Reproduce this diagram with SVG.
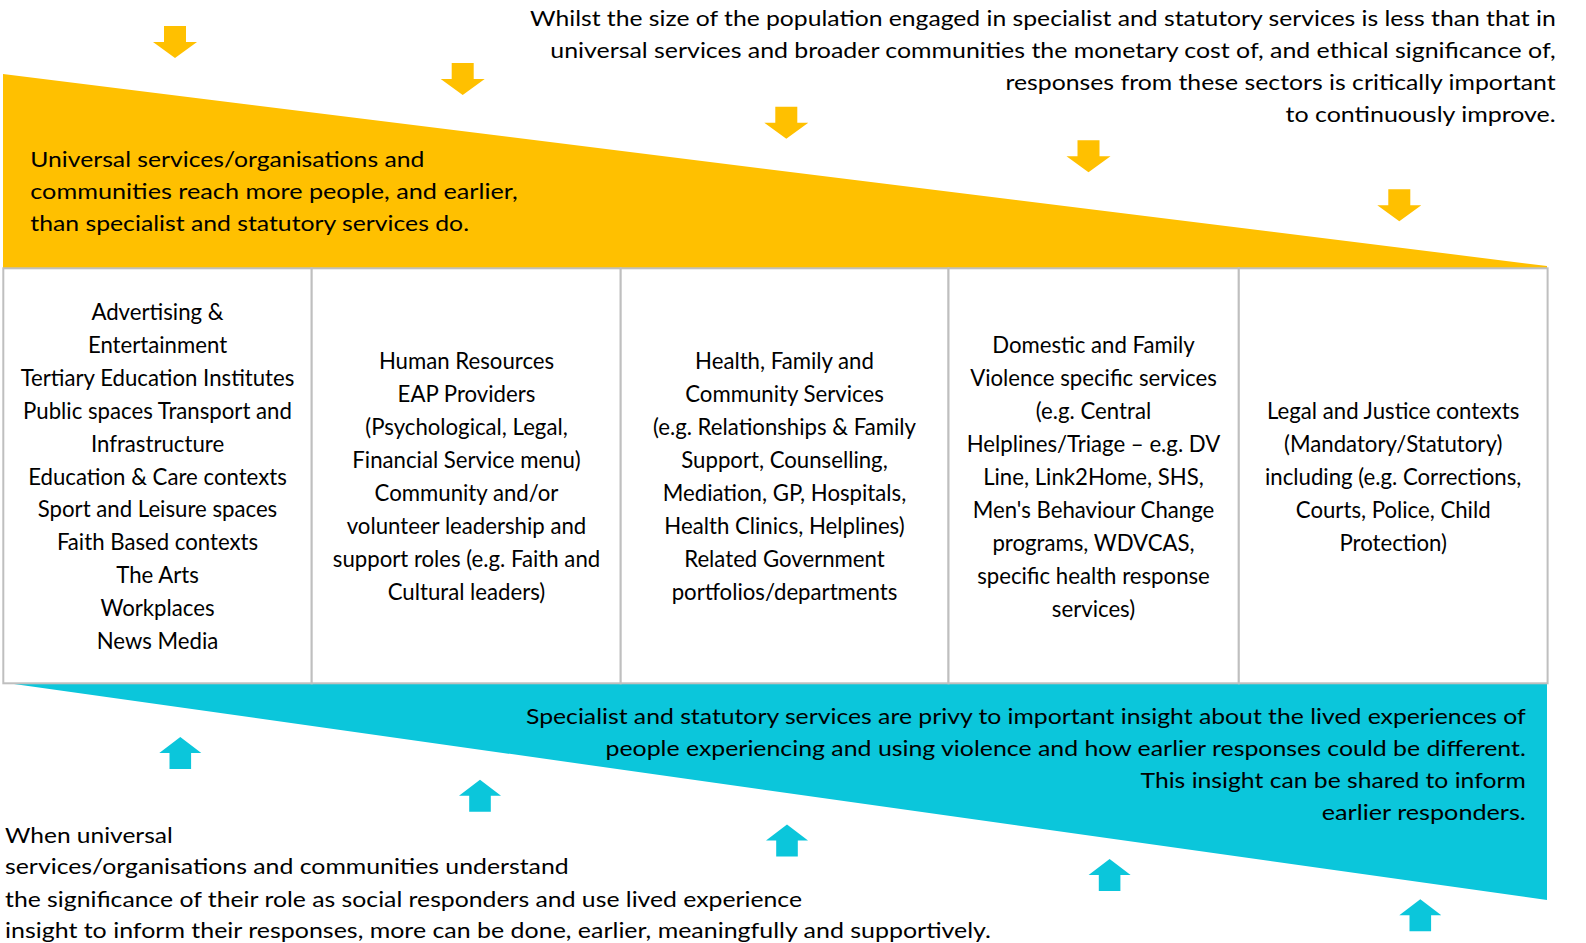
<svg xmlns="http://www.w3.org/2000/svg" width="1586" height="943" viewBox="0 0 1586 943">
<style>
.t{font-family:Lato,"Open Sans","Liberation Sans",sans-serif;font-size:21px;fill:#000}
.c{text-anchor:middle;font-size:22.2px}
.cell{fill:#fff;stroke:#bfbfbf;stroke-width:2}
.yel{fill:#ffc000}
.cya{fill:#0bc6db}
</style>
<defs>
<path id="down" d="M-11,0 H11 V16 H22 L0,32 L-22,16 H-11 Z"/>
<path id="up" d="M0,0 L21,16 H10.8 V32 H-10.8 V16 H-21 Z"/>
</defs>
<rect width="1586" height="943" fill="#fff"/>
<g id="yellow-band">
<polygon class="yel" points="3,74 1547,266 1547,268 3,268"/>
<text class="t" x="30.3" y="166.7" textLength="394" lengthAdjust="spacingAndGlyphs">Universal services/organisations and</text>
<text class="t" x="30.3" y="199" textLength="487.4" lengthAdjust="spacingAndGlyphs">communities reach more people, and earlier,</text>
<text class="t" x="30.3" y="231" textLength="438.7" lengthAdjust="spacingAndGlyphs">than specialist and statutory services do.</text>
</g>
<g id="top-note">
<text class="t" x="530" y="26" textLength="1025.7" lengthAdjust="spacingAndGlyphs">Whilst the size of the population engaged in specialist and statutory services is less than that in</text>
<text class="t" x="550.3" y="57.8" textLength="1005.4" lengthAdjust="spacingAndGlyphs">universal services and broader communities the monetary cost of, and ethical significance of,</text>
<text class="t" x="1005.4" y="89.7" textLength="550.3" lengthAdjust="spacingAndGlyphs">responses from these sectors is critically important</text>
<text class="t" x="1285.6" y="121.6" textLength="270.1" lengthAdjust="spacingAndGlyphs">to continuously improve.</text>
</g>
<g id="cyan-band">
<polygon class="cya" points="14,684 1547,684 1547,900"/>
<text class="t" x="526" y="723.5" textLength="999.8" lengthAdjust="spacingAndGlyphs">Specialist and statutory services are privy to important insight about the lived experiences of</text>
<text class="t" x="605.5" y="755.5" textLength="920.3" lengthAdjust="spacingAndGlyphs">people experiencing and using violence and how earlier responses could be different.</text>
<text class="t" x="1140.5" y="787.5" textLength="385.3" lengthAdjust="spacingAndGlyphs">This insight can be shared to inform</text>
<text class="t" x="1321.8" y="819.5" textLength="204" lengthAdjust="spacingAndGlyphs">earlier responders.</text>
</g>
<g id="bottom-note">
<text class="t" x="5" y="842.7" textLength="167.8" lengthAdjust="spacingAndGlyphs">When universal</text>
<text class="t" x="5" y="874.3" textLength="563.7" lengthAdjust="spacingAndGlyphs">services/organisations and communities understand</text>
<text class="t" x="5" y="906.7" textLength="797" lengthAdjust="spacingAndGlyphs">the significance of their role as social responders and use lived experience</text>
<text class="t" x="5" y="938.3" textLength="986" lengthAdjust="spacingAndGlyphs">insight to inform their responses, more can be done, earlier, meaningfully and supportively.</text>
</g>
<g id="col1">
<rect class="cell" x="3.3" y="268.3" width="308.4" height="415"/>
<text class="t c" x="157.5"><tspan x="157.5" y="320">Advertising &amp;</tspan><tspan x="157.5" y="352.9">Entertainment</tspan><tspan x="157.5" y="385.8">Tertiary Education Institutes</tspan><tspan x="157.5" y="418.7">Public spaces Transport and</tspan><tspan x="157.5" y="451.6">Infrastructure</tspan><tspan x="157.5" y="484.5">Education &amp; Care contexts</tspan><tspan x="157.5" y="517.4">Sport and Leisure spaces</tspan><tspan x="157.5" y="550.3">Faith Based contexts</tspan><tspan x="157.5" y="583.2">The Arts</tspan><tspan x="157.5" y="616.1">Workplaces</tspan><tspan x="157.5" y="649">News Media</tspan></text>
</g>
<g id="col2">
<rect class="cell" x="311.7" y="268.3" width="309" height="415"/>
<text class="t c"><tspan x="466.5" y="369.3">Human Resources</tspan><tspan x="466.5" y="402.2">EAP Providers</tspan><tspan x="466.5" y="435.1">(Psychological, Legal,</tspan><tspan x="466.5" y="468">Financial Service menu)</tspan><tspan x="466.5" y="500.9">Community and/or</tspan><tspan x="466.5" y="533.8">volunteer leadership and</tspan><tspan x="466.5" y="566.7">support roles (e.g. Faith and</tspan><tspan x="466.5" y="599.6">Cultural leaders)</tspan></text>
</g>
<g id="col3">
<rect class="cell" x="620.7" y="268.3" width="327.8" height="415"/>
<text class="t c"><tspan x="784.5" y="369.3">Health, Family and</tspan><tspan x="784.5" y="402.2">Community Services</tspan><tspan x="784.5" y="435.1">(e.g. Relationships &amp; Family</tspan><tspan x="784.5" y="468">Support, Counselling,</tspan><tspan x="784.5" y="500.9">Mediation, GP, Hospitals,</tspan><tspan x="784.5" y="533.8">Health Clinics, Helplines)</tspan><tspan x="784.5" y="566.7">Related Government</tspan><tspan x="784.5" y="599.6">portfolios/departments</tspan></text>
</g>
<g id="col4">
<rect class="cell" x="948.5" y="268.3" width="290.3" height="415"/>
<text class="t c"><tspan x="1093.5" y="353.3">Domestic and Family</tspan><tspan x="1093.5" y="386.2">Violence specific services</tspan><tspan x="1093.5" y="419.1">(e.g. Central</tspan><tspan x="1093.5" y="452">Helplines/Triage – e.g. DV</tspan><tspan x="1093.5" y="484.9">Line, Link2Home, SHS,</tspan><tspan x="1093.5" y="517.8">Men's Behaviour Change</tspan><tspan x="1093.5" y="550.7">programs, WDVCAS,</tspan><tspan x="1093.5" y="583.6">specific health response</tspan><tspan x="1093.5" y="616.5">services)</tspan></text>
</g>
<g id="col5">
<rect class="cell" x="1238.8" y="268.3" width="308.8" height="415"/>
<text class="t c"><tspan x="1393.2" y="419.1">Legal and Justice contexts</tspan><tspan x="1393.2" y="452">(Mandatory/Statutory)</tspan><tspan x="1393.2" y="484.9">including (e.g. Corrections,</tspan><tspan x="1393.2" y="517.8">Courts, Police, Child</tspan><tspan x="1393.2" y="550.7">Protection)</tspan></text>
</g>
<g id="connectors">
<use href="#down" class="yel" x="175" y="26"/>
<use href="#down" class="yel" x="462.7" y="63"/>
<use href="#down" class="yel" x="786.3" y="106.8"/>
<use href="#down" class="yel" x="1088.5" y="140.3"/>
<use href="#down" class="yel" x="1399.3" y="189.3"/>
<use href="#up" class="cya" x="180.3" y="737"/>
<use href="#up" class="cya" x="480" y="779.7"/>
<use href="#up" class="cya" x="787" y="824.5"/>
<use href="#up" class="cya" x="1109.6" y="859"/>
<use href="#up" class="cya" x="1420.3" y="899.3"/>
</g>
</svg>
